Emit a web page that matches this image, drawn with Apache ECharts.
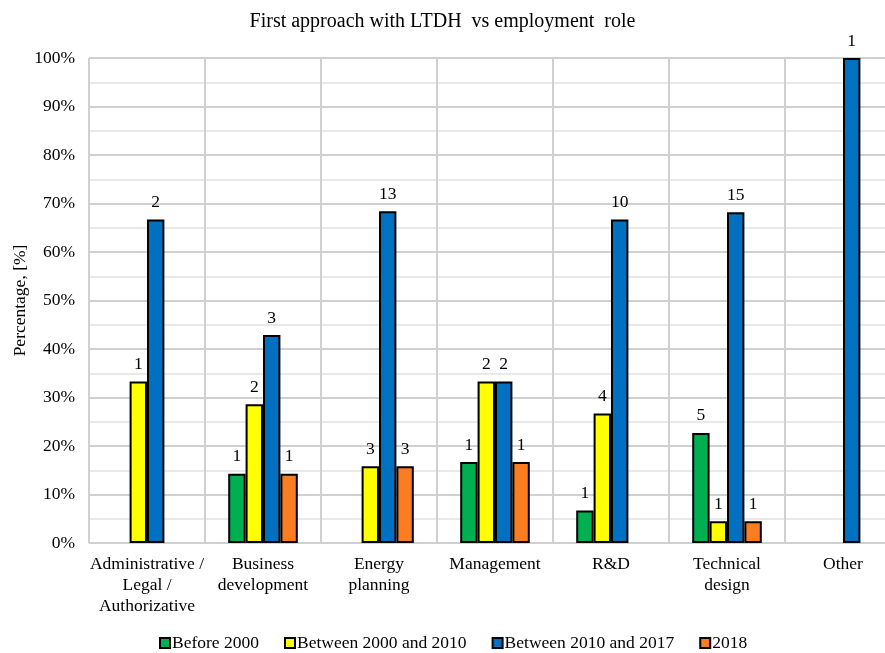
<!DOCTYPE html>
<html>
<head>
<meta charset="utf-8">
<script src="https://cdn.jsdelivr.net/npm/echarts@6/dist/echarts.min.js"></script>
<style>
  html, body { margin: 0; padding: 0; background: #fff; }
  #chart { width: 885px; height: 653px; }
</style>
</head>
<body>
<div id="chart"></div>
<script>
  // categories on the x axis
  var roles = ['Administrative /\nLegal /\nAuthorizative', 'Business\ndevelopment', 'Energy\nplanning',
    'Management', 'R&D', 'Technical\ndesign', 'Other'];
  var periods = ['Before 2000', 'Between 2000 and 2010', 'Between 2010 and 2017', '2018'];
  var yTicks = ['0%', '10%', '20%', '30%', '40%', '50%', '60%', '70%', '80%', '90%', '100%'];

  // percentages (bar heights), null = no bar
  var pctBefore2000 = [null, 14.3, null, 16.7, 6.7, 22.7, null];
  var pct2000to2010 = [33.3, 28.6, 15.8, 33.3, 26.7, 4.5, null];
  var pct2010to2017 = [66.7, 42.9, 68.4, 33.3, 66.7, 68.2, 100];
  var pct2018 = [null, 14.3, 15.8, 16.7, null, 4.5, null];

  // respondent counts shown above the bars
  var cntBefore2000 = [null, 1, null, 1, 1, 5, null];
  var cnt2000to2010 = [1, 2, 3, 2, 4, 1, null];
  var cnt2010to2017 = [2, 3, 13, 2, 10, 15, 1];
  var cnt2018 = [null, 1, 3, 1, null, 1, null];

  var colors = ['#00b050', '#ffff00', '#0070c0', '#fb7d22'];
  var font = '"Liberation Serif", "Times New Roman", serif';

  var chart = echarts.init(document.getElementById('chart'));

  function makeSeries(idx, pct, cnt) {
    return {
      name: periods[idx],
      type: 'bar',
      data: pct,
      barGap: '0%',
      barCategoryGap: '40%',
      itemStyle: { color: colors[idx], borderColor: '#000', borderWidth: 2 },
      label: {
        show: true,
        position: 'top',
        distance: 8,
        fontFamily: font,
        fontSize: 17.5,
        color: '#000',
        formatter: function(p) { return cnt[p.dataIndex]; }
      }
    };
  }

  var option = {
    backgroundColor: '#fff',
    animation: false,
    textStyle: { fontFamily: font },
    title: {
      text: 'First approach with LTDH  vs employment  role',
      left: 'center',
      top: 7,
      textStyle: { fontFamily: font, fontSize: 20, fontWeight: 'normal', color: '#000' }
    },
    legend: {
      top: 629,
      left: 154,
      itemWidth: 10,
      itemHeight: 10,
      itemGap: 25,
      icon: 'rect',
      textStyle: { fontFamily: font, fontSize: 17.5, color: '#000', padding: [0, 0, 0, -3] },
      data: periods
    },
    grid: { left: 89, top: 58, right: -16, height: 485, outerBoundsMode: 'none' },
    xAxis: {
      type: 'category',
      data: roles,
      axisTick: { show: false },
      axisLine: { lineStyle: { color: '#d0d0d0', width: 1 } },
      splitLine: { show: true, lineStyle: { color: '#d0d0d0', width: 2 } },
      axisLabel: {
        interval: 0,
        margin: 11,
        fontFamily: font,
        fontSize: 17.5,
        lineHeight: 21,
        color: '#000'
      }
    },
    yAxis: {
      type: 'value',
      min: 0,
      max: 100,
      interval: 10,
      name: 'Percentage, [%]',
      nameLocation: 'middle',
      nameGap: 60,
      nameMoveOverlap: false,
      nameTextStyle: { fontFamily: font, fontSize: 17.5, color: '#000' },
      axisLine: { show: false },
      axisTick: { show: false },
      axisLabel: {
        margin: 14,
        fontFamily: font,
        fontSize: 17.5,
        color: '#000',
        formatter: function(v) { return yTicks[Math.round(v / 10)]; }
      },
      splitLine: { show: true, lineStyle: { color: '#d0d0d0', width: 2 } },
      minorTick: { show: false, splitNumber: 2 },
      minorSplitLine: { show: true, lineStyle: { color: '#e2e2e2', width: 1.5 } }
    },
    series: [
      makeSeries(0, pctBefore2000, cntBefore2000),
      makeSeries(1, pct2000to2010, cnt2000to2010),
      makeSeries(2, pct2010to2017, cnt2010to2017),
      makeSeries(3, pct2018, cnt2018)
    ]
  };

  chart.setOption(option);
</script>
</body>
</html>
